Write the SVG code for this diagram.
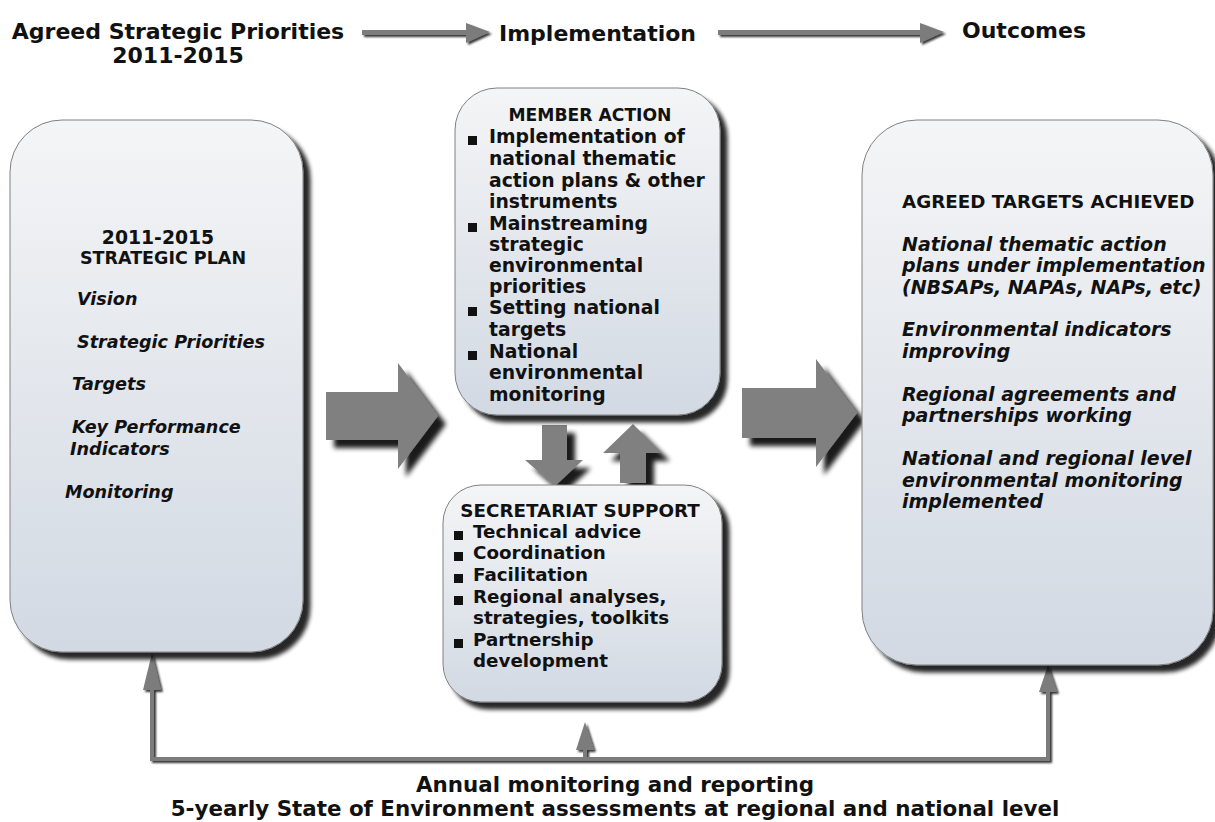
<svg xmlns="http://www.w3.org/2000/svg" width="1215" height="822" viewBox="0 0 1215 822">
  <defs>
    <linearGradient id="boxFill" x1="0" y1="0" x2="0" y2="1">
      <stop offset="0" stop-color="#f4f5f6"/>
      <stop offset="1" stop-color="#d2d9e3"/>
    </linearGradient>
    <filter id="boxShadow" x="-10%" y="-10%" width="125%" height="125%">
      <feGaussianBlur in="SourceAlpha" stdDeviation="2"/>
      <feOffset dx="7" dy="7" result="blur"/>
      <feComponentTransfer><feFuncA type="linear" slope="0.85"/></feComponentTransfer>
      <feMerge><feMergeNode/><feMergeNode in="SourceGraphic"/></feMerge>
    </filter>
    <filter id="arrowShadow" x="-20%" y="-20%" width="150%" height="150%">
      <feGaussianBlur in="SourceAlpha" stdDeviation="2.5"/>
      <feOffset dx="8" dy="8"/>
      <feComponentTransfer><feFuncA type="linear" slope="0.9"/></feComponentTransfer>
      <feMerge><feMergeNode/><feMergeNode in="SourceGraphic"/></feMerge>
    </filter>
    <filter id="lineShadow" x="-10%" y="-50%" width="120%" height="200%">
      <feGaussianBlur in="SourceAlpha" stdDeviation="1"/>
      <feOffset dx="2" dy="2"/>
      <feComponentTransfer><feFuncA type="linear" slope="0.8"/></feComponentTransfer>
      <feMerge><feMergeNode/><feMergeNode in="SourceGraphic"/></feMerge>
    </filter>
    <style>
      text { font-family: "DejaVu Sans", Verdana, sans-serif; font-weight: bold; fill: #111; }
      .hdr { font-size: 22px; }
      .body { font-size: 18.8px; }
      .cap { font-size: 18.3px; }
      .head { font-size: 17.2px; }
      .plan { font-size: 17.5px; }
      .itl { font-size: 17.6px; font-style: italic; }
      .it { font-size: 19px; font-style: italic; }
      .foot { font-size: 21.4px; }
      .box { fill: url(#boxFill); stroke: #808080; stroke-width: 1; }
      .big { fill: #808080; }
      .flow { fill: #7b7b7b; }
      .bul { fill: #111; }
    </style>
  </defs>

  <!-- header row -->
  <g id="header">
    <text class="hdr" x="178" y="39" text-anchor="middle">Agreed Strategic Priorities</text>
    <text class="hdr" x="178" y="63" text-anchor="middle">2011-2015</text>
    <text class="hdr" x="499" y="41">Implementation</text>
    <text class="hdr" x="962" y="38">Outcomes</text>
  </g>

  <!-- connectors -->
  <g id="connectors">
    <g filter="url(#lineShadow)">
      <rect class="flow" x="362" y="30" width="106" height="5"/>
      <polygon class="flow" points="466,23 490,32 466,43"/>
      <rect class="flow" x="718" y="30" width="204" height="5"/>
      <polygon class="flow" points="920,23 944,32 920,43"/>
    </g>
    <g filter="url(#arrowShadow)">
      <polygon class="big" points="326,392 398,392 398,363 438,416 398,469 398,440 326,440"/>
      <polygon class="big" points="742,388 816,388 816,359 857,413 816,467 816,438 742,438"/>
      <polygon class="big" points="542,425 567,425 567,460 583,460 555,486 525,460 542,460"/>
      <polygon class="big" points="620,483 646,483 646,453 662,453 633,424 603,453 620,453"/>
    </g>
    <g filter="url(#lineShadow)">
      <rect class="flow" x="150" y="690" width="4" height="70"/>
      <polygon class="flow" points="152,653 161,690 143,690"/>
      <rect class="flow" x="583" y="748" width="4" height="12"/>
      <polygon class="flow" points="585,722 594,750 576,750"/>
      <rect class="flow" x="1046" y="690" width="4" height="70"/>
      <polygon class="flow" points="1048,665 1057,692 1039,692"/>
      <rect class="flow" x="150" y="757" width="900" height="4"/>
    </g>
  </g>

  <!-- strategic plan -->
  <g id="strategic-plan">
    <rect class="box" x="10" y="120" width="293" height="532" rx="52" filter="url(#boxShadow)"/>
    <text class="body" x="158" y="244" text-anchor="middle">2011-2015</text>
    <text class="plan" x="163" y="264" text-anchor="middle">STRATEGIC PLAN</text>
    <text class="itl" x="77" y="305">Vision</text>
    <text class="itl" x="77" y="348">Strategic Priorities</text>
    <text class="itl" x="72" y="390">Targets</text>
    <text class="itl" x="72" y="433">Key Performance</text>
    <text class="itl" x="70" y="455">Indicators</text>
    <text class="itl" x="65" y="498">Monitoring</text>
  </g>

  <!-- member action -->
  <g id="member-action">
    <rect class="box" x="455" y="88" width="265" height="327" rx="42" filter="url(#boxShadow)"/>
    <text class="head" x="590" y="121" text-anchor="middle">MEMBER ACTION</text>
    <rect class="bul" x="468" y="136" width="9" height="9"/>
    <text class="body" x="489" y="143">Implementation of</text>
    <text class="body" x="489" y="165">national thematic</text>
    <text class="body" x="489" y="187">action plans &amp; other</text>
    <text class="body" x="489" y="208">instruments</text>
    <rect class="bul" x="468" y="223" width="9" height="9"/>
    <text class="body" x="489" y="230">Mainstreaming</text>
    <text class="body" x="489" y="251">strategic</text>
    <text class="body" x="489" y="272">environmental</text>
    <text class="body" x="489" y="293">priorities</text>
    <rect class="bul" x="468" y="307" width="9" height="9"/>
    <text class="body" x="489" y="314">Setting national</text>
    <text class="body" x="489" y="336">targets</text>
    <rect class="bul" x="468" y="351" width="9" height="9"/>
    <text class="body" x="489" y="358">National</text>
    <text class="body" x="489" y="379">environmental</text>
    <text class="body" x="489" y="401">monitoring</text>
  </g>

  <!-- secretariat support -->
  <g id="secretariat-support">
    <rect class="box" x="443" y="485" width="279" height="217" rx="38" filter="url(#boxShadow)"/>
    <text class="cap" x="580" y="517" text-anchor="middle">SECRETARIAT SUPPORT</text>
    <rect class="bul" x="454" y="531" width="9" height="9"/>
    <text class="cap" x="473" y="538">Technical advice</text>
    <rect class="bul" x="454" y="552" width="9" height="9"/>
    <text class="cap" x="473" y="559">Coordination</text>
    <rect class="bul" x="454" y="574" width="9" height="9"/>
    <text class="cap" x="473" y="581">Facilitation</text>
    <rect class="bul" x="454" y="596" width="9" height="9"/>
    <text class="cap" x="473" y="603">Regional analyses,</text>
    <text class="cap" x="473" y="624">strategies, toolkits</text>
    <rect class="bul" x="454" y="639" width="9" height="9"/>
    <text class="cap" x="473" y="646">Partnership</text>
    <text class="cap" x="473" y="667">development</text>
  </g>

  <!-- outcomes -->
  <g id="targets-achieved">
    <rect class="box" x="862" y="120" width="351" height="545" rx="55" filter="url(#boxShadow)"/>
    <text class="cap" x="902" y="208">AGREED TARGETS ACHIEVED</text>
    <text class="it" x="902" y="251">National thematic action</text>
    <text class="it" x="902" y="272">plans under implementation</text>
    <text class="it" x="902" y="294">(NBSAPs, NAPAs, NAPs, etc)</text>
    <text class="it" x="902" y="336">Environmental indicators</text>
    <text class="it" x="902" y="358">improving</text>
    <text class="it" x="902" y="401">Regional agreements and</text>
    <text class="it" x="902" y="422">partnerships working</text>
    <text class="it" x="902" y="465">National and regional level</text>
    <text class="it" x="902" y="487">environmental monitoring</text>
    <text class="it" x="902" y="508">implemented</text>
  </g>

  <!-- footer -->
  <g id="footer">
    <text class="foot" x="615" y="792" text-anchor="middle">Annual monitoring and reporting</text>
    <text class="foot" x="615" y="816" text-anchor="middle">5-yearly State of Environment assessments at regional and national level</text>
  </g>
</svg>
